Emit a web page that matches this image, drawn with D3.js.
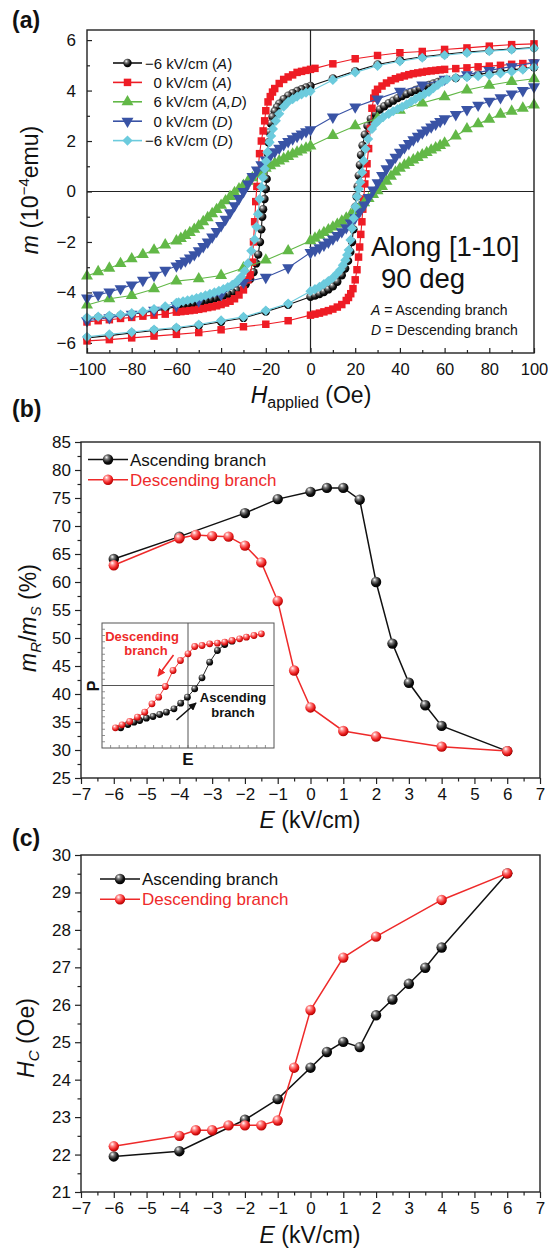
<!DOCTYPE html>
<html>
<head>
<meta charset="utf-8">
<script src="https://cdn.jsdelivr.net/npm/d3@7"></script>
<style>
  body { margin: 0; background: #fff; }
  svg { display: block; font-family: "Liberation Sans", Arial, sans-serif; }
</style>
</head>
<body>
<div id="chart"></div>
<script>
// ---------- panel (a) data : [H (Oe), m (1e-4 emu)] ----------
const blackUpper = [[100,5.7],[90,5.65],[80,5.59],[70,5.53],[60,5.44],[50,5.34],[40,5.2],[30,5.03],[20,4.77],[10,4.48],
  [0,4.18],[-2,4.12],[-4,4.05],[-6,3.98],[-8,3.9],[-10,3.8],[-12,3.66],[-14,3.48],[-15,3.34],[-16,3.18],[-17,2.96],[-17.8,2.7],[-18.4,2.35],[-18.8,1.95],[-19.1,1.5],[-19.3,1.0],[-19.6,0.5],[-20,0.1],[-20.6,-0.3],[-21.2,-0.7],[-21.6,-1.0],[-22,-1.5],[-22.6,-2.0],[-23.4,-2.5],[-24.3,-2.85],[-25.5,-3.2],[-27,-3.47],[-29,-3.68],[-31,-3.82],[-33,-3.92],[-35,-4.0],[-37,-4.07],[-39,-4.13],[-41,-4.18],[-43,-4.24],[-45,-4.28],[-47,-4.33],[-49,-4.37],[-51,-4.41],[-53,-4.44],[-55,-4.48],[-57,-4.51],[-59,-4.54],[-60,-4.56],
  [-65,-4.66],[-70,-4.73],[-75,-4.8],[-80,-4.86],[-85,-4.91],[-90,-4.95],[-95,-4.99],[-100,-5.03]];
const blackLower = [[-100,-5.8],[-90,-5.71],[-80,-5.61],[-70,-5.51],[-60,-5.43],[-50,-5.31],[-40,-5.16],[-30,-5.01],[-20,-4.76],[-10,-4.49],
  [0,-4.17],[2,-4.12],[4,-4.06],[6,-3.98],[8,-3.88],[10,-3.76],[12,-3.58],[14,-3.32],[15.5,-3.05],[16.8,-2.75],[17.8,-2.4],[18.6,-2.0],[19.2,-1.5],[19.7,-1.0],[20.1,-0.6],[20.6,-0.2],[21.1,0.2],[21.6,0.63],[22.1,1.05],[22.6,1.45],[23.3,1.82],[24.3,2.25],[25.5,2.6],[27,2.88],[29,3.1],[31,3.25],[33,3.38],[35,3.5],[37,3.6],[39,3.7],[41,3.78],[43,3.86],[45,3.94],[47,4.02],[49,4.09],[51,4.16],[53,4.22],[55,4.28],[57,4.34],[59,4.4],[60,4.42],
  [65,4.5],[70,4.57],[75,4.64],[80,4.7],[85,4.76],[90,4.82],[95,4.87],[100,4.92]];
const redUpper = [[100,5.85],[90,5.82],[80,5.76],[70,5.69],[60,5.63],[50,5.55],[40,5.5],[30,5.39],[20,5.26],[10,5.06],
  [2,4.88],[0,4.84],[-2,4.8],[-4,4.76],[-6,4.72],[-8,4.62],[-10,4.54],[-12,4.44],[-14,4.28],[-16,4.08],[-17,3.94],[-18,3.76],[-19,3.55],[-20,3.2],[-20.5,2.8],[-21.2,2.4],[-22,2.0],[-22.8,1.5],[-23.5,0.8],[-24,0.2],[-24.5,-0.4],[-25,-1.2],[-25.5,-2.0],[-26,-2.8],[-27,-3.3],[-28,-3.5],[-30,-3.9],[-32,-4.1],[-34,-4.25],[-36,-4.35],[-38,-4.42],[-40,-4.48],[-42,-4.53],[-44,-4.57],[-46,-4.6],[-48,-4.64],[-50,-4.67],[-52,-4.7],[-54,-4.72],[-56,-4.74],[-58,-4.76],[-60,-4.78],
  [-65,-4.86],[-70,-4.9],[-75,-4.94],[-80,-4.99],[-85,-5.03],[-90,-5.08],[-95,-5.12],[-100,-5.17]];
const redLower = [[-100,-5.92],[-90,-5.87],[-80,-5.8],[-70,-5.73],[-60,-5.66],[-50,-5.59],[-40,-5.48],[-30,-5.36],[-20,-5.26],[-10,-5.12],
  [0,-4.9],[2,-4.86],[4,-4.82],[6,-4.77],[8,-4.72],[10,-4.66],[12,-4.58],[14,-4.48],[16,-4.32],[17,-4.2],[18,-4.05],[19,-3.85],[20,-3.5],[20.8,-3.1],[21.5,-2.6],[22,-2.2],[22.5,-1.7],[23,-1.2],[23.4,-0.7],[23.8,-0.3],[24.3,0.3],[24.8,0.7],[25.3,1.1],[26,1.7],[26.8,2.5],[27.5,3.3],[28.3,3.7],[29,3.9],[30,4.05],[32,4.18],[34,4.3],[36,4.4],[38,4.47],[40,4.53],[42,4.58],[44,4.63],[46,4.67],[48,4.7],[50,4.73],[52,4.76],[54,4.78],[56,4.8],[58,4.82],[60,4.84],
  [65,4.87],[70,4.9],[75,4.94],[80,4.97],[85,5.0],[90,5.04],[95,5.07],[100,5.1]];
const greenUpper = [[100,4.47],[90,4.36],[80,4.21],[70,4.02],[60,3.75],[50,3.51],[40,3.22],[30,2.9],[20,2.6],[10,2.22],
  [0,1.8],[-2,1.72],[-4,1.64],[-6,1.56],[-8,1.48],[-10,1.39],[-12,1.3],[-14,1.21],[-16,1.12],[-18,1.02],[-20,0.92],[-22,0.8],[-24,0.68],[-26,0.54],[-28,0.4],[-30,0.24],[-32,0.1],[-34,-0.05],[-36,-0.2],[-38,-0.37],[-40,-0.55],[-42,-0.72],[-44,-0.88],[-46,-1.04],[-48,-1.2],[-50,-1.36],[-52,-1.5],[-54,-1.63],[-56,-1.75],[-58,-1.86],[-60,-1.96],
  [-65,-2.12],[-70,-2.32],[-75,-2.5],[-80,-2.67],[-85,-2.86],[-90,-3.04],[-95,-3.18],[-100,-3.35]];
const greenLower = [[-100,-4.5],[-90,-4.25],[-80,-4.12],[-70,-3.86],[-60,-3.55],[-50,-3.46],[-40,-3.33],[-30,-3.03],[-20,-2.72],[-10,-2.35],
  [0,-1.95],[2,-1.85],[4,-1.74],[6,-1.63],[8,-1.52],[10,-1.41],[12,-1.3],[14,-1.18],[16,-1.06],[18,-0.92],[20,-0.77],[22,-0.62],[24,-0.45],[26,-0.28],[28,-0.12],[30,0.03],[32,0.2],[34,0.4],[36,0.6],[38,0.77],[40,0.92],[42,1.04],[44,1.15],[46,1.25],[48,1.35],[50,1.45],[52,1.54],[54,1.64],[56,1.73],[58,1.82],[60,1.92],
  [65,2.2],[70,2.48],[75,2.68],[80,2.86],[85,3.06],[90,3.18],[95,3.3],[100,3.43]];
const blueUpper = [[100,5.1],[90,4.95],[80,4.8],[70,4.63],[60,4.45],[50,4.22],[40,3.97],[30,3.67],[20,3.35],[10,2.95],
  [0,2.45],[-2,2.37],[-4,2.28],[-6,2.19],[-8,2.09],[-10,1.98],[-12,1.86],[-14,1.72],[-16,1.58],[-18,1.42],[-20,1.25],[-22,1.06],[-24,0.85],[-26,0.6],[-28,0.3],[-30,0.0],[-32,-0.28],[-34,-0.56],[-36,-0.84],[-38,-1.1],[-40,-1.35],[-42,-1.58],[-44,-1.8],[-46,-2.0],[-48,-2.18],[-50,-2.35],[-52,-2.5],[-54,-2.63],[-56,-2.75],[-58,-2.85],[-60,-2.95],
  [-65,-3.12],[-70,-3.32],[-75,-3.52],[-80,-3.7],[-85,-3.85],[-90,-3.98],[-95,-4.1],[-100,-4.22]];
const blueLower = [[-100,-5.12],[-90,-5.0],[-80,-4.86],[-70,-4.7],[-60,-4.52],[-50,-4.33],[-40,-4.08],[-30,-3.6],[-20,-3.4],[-10,-3.02],
  [0,-2.42],[2,-2.33],[4,-2.23],[6,-2.12],[8,-2.0],[10,-1.88],[12,-1.74],[14,-1.59],[16,-1.43],[18,-1.25],[20,-1.04],[22,-0.8],[24,-0.53],[26,-0.24],[28,0.06],[30,0.35],[32,0.64],[34,0.9],[36,1.14],[38,1.36],[40,1.56],[42,1.74],[44,1.9],[46,2.05],[48,2.19],[50,2.32],[52,2.44],[54,2.56],[56,2.67],[58,2.78],[60,2.88],
  [65,3.05],[70,3.25],[75,3.42],[80,3.58],[85,3.72],[90,3.87],[95,4.0],[100,4.15]];
const cyanUpper = [[100,5.68],[90,5.62],[80,5.56],[70,5.49],[60,5.4],[50,5.3],[40,5.16],[30,4.98],[20,4.72],[10,4.42],
  [0,3.97],[-2,3.92],[-4,3.85],[-6,3.76],[-8,3.66],[-10,3.55],[-12,3.36],[-14,3.08],[-15.5,2.8],[-16.8,2.48],[-17.6,2.2],[-18.3,1.95],[-19.3,1.56],[-19.9,1.2],[-20.5,0.9],[-21.3,0.55],[-22,0.17],[-22.8,-0.3],[-23.5,-0.9],[-24.2,-1.4],[-25,-1.9],[-26.5,-2.35],[-28,-2.85],[-29.5,-3.15],[-31,-3.38],[-33,-3.57],[-35,-3.7],[-37,-3.79],[-39,-3.87],[-41,-3.94],[-43,-4.0],[-45,-4.06],[-47,-4.12],[-49,-4.17],[-51,-4.22],[-53,-4.27],[-55,-4.31],[-57,-4.35],[-59,-4.39],[-60,-4.41],
  [-65,-4.55],[-70,-4.66],[-75,-4.75],[-80,-4.82],[-85,-4.88],[-90,-4.92],[-95,-4.96],[-100,-4.99]];
const cyanLower = [[-100,-5.76],[-90,-5.66],[-80,-5.57],[-70,-5.47],[-60,-5.39],[-50,-5.27],[-40,-5.11],[-30,-4.97],[-20,-4.72],[-10,-4.44],
  [0,-3.95],[2,-3.87],[4,-3.78],[6,-3.67],[8,-3.55],[10,-3.42],[12,-3.24],[13.4,-3.1],[14.5,-2.92],[15.6,-2.72],[16.4,-2.52],[17.1,-2.32],[17.9,-1.92],[18.6,-1.46],[19.3,-1.06],[20.1,-0.6],[20.8,-0.2],[21.6,0.1],[22.3,0.37],[23.1,0.76],[23.8,1.22],[24.6,1.69],[25.8,2.08],[27.5,2.48],[29,2.68],[30.5,2.81],[32.5,2.95],[35,3.08],[37,3.18],[39,3.27],[41,3.35],[43,3.45],[45,3.56],[47,3.67],[49,3.77],[51,3.86],[53,3.95],[55,4.1],[57,4.22],[59,4.35],[61,4.44],
  [65,4.5],[70,4.53],[75,4.57],[80,4.62],[85,4.68],[90,4.75],[95,4.83],[100,4.92]];

// ---------- panel (b)/(c) data ----------
const eAsc = [-6,-4,-2,-1,0,0.5,1,1.5,2,2.5,3,3.5,4,6];
const eDesc = [-6,-4,-3.5,-3,-2.5,-2,-1.5,-1,-0.5,0,1,2,4,6];
const ratioAsc = [64.1,68.1,72.3,74.8,76.1,76.8,76.8,74.7,60.0,49.0,42.0,38.0,34.3,29.8];
const ratioDesc = [63.0,67.8,68.4,68.2,68.1,66.5,63.5,56.6,44.2,37.6,33.4,32.4,30.6,29.8];
const hcAsc = [21.95,22.09,22.93,23.48,24.32,24.74,25.01,24.87,25.72,26.14,26.56,26.99,27.53,29.51];
const hcDesc = [22.22,22.5,22.65,22.65,22.78,22.78,22.78,22.91,24.32,25.86,27.26,27.82,28.8,29.51];

// inset P-E sketch, normalised units
const insetDesc = [[-0.844,-0.677],[-0.767,-0.629],[-0.678,-0.576],[-0.588,-0.507],[-0.503,-0.427],[-0.419,-0.293],[-0.341,-0.187],[-0.263,-0.016],[-0.174,0.24],[-0.088,0.4],[0,0.507],[0.078,0.624],[0.163,0.64],[0.252,0.667],[0.342,0.677],[0.427,0.693],[0.512,0.72],[0.6,0.747],[0.679,0.773],[0.767,0.8],[0.853,0.827]];
const insetAsc = [[-0.782,-0.677],[-0.698,-0.624],[-0.628,-0.587],[-0.562,-0.56],[-0.484,-0.523],[-0.407,-0.496],[-0.329,-0.464],[-0.251,-0.427],[-0.163,-0.373],[-0.085,-0.283],[-0.007,-0.187],[0.078,-0.053],[0.163,0.123],[0.252,0.373],[0.342,0.56],[0.427,0.656],[0.512,0.709]];

const RED = "#ee1c25", GREEN = "#62b847", BLUE = "#3953a5", CYAN = "#6ccbdd";

const svg = d3.select("#chart").append("svg")
    .attr("width", 548).attr("height", 1251);

// sphere gradients
const defs = svg.append("defs");
function sphere(id, c0, c1, c2) {
    const g = defs.append("radialGradient").attr("id", id)
        .attr("cx", "40%").attr("cy", "35%").attr("r", "65%").attr("fx", "35%").attr("fy", "28%");
    g.append("stop").attr("offset", "0%").attr("stop-color", "#ffffff");
    g.append("stop").attr("offset", "30%").attr("stop-color", c0);
    g.append("stop").attr("offset", "70%").attr("stop-color", c1);
    g.append("stop").attr("offset", "100%").attr("stop-color", c2);
}
sphere("ballK", "#777", "#111", "#000");
sphere("ballR", "#ff8a8a", "#ee2222", "#b00000");

let fontTick = 17;

function frame(x, y) {
    svg.append("rect")
        .attr("x", x.range()[0]).attr("y", y.range()[1])
        .attr("width", x.range()[1] - x.range()[0])
        .attr("height", y.range()[0] - y.range()[1])
        .attr("fill", "none").attr("stroke", "#222").attr("stroke-width", 1.4);
}

function styleAxis(g) {
    g.select(".domain").remove();
    g.selectAll("line").attr("stroke", "#222").attr("stroke-width", 1.2);
    g.selectAll("text").attr("font-size", fontTick).attr("fill", "#111")
        .attr("font-family", "Liberation Sans, Arial, sans-serif");
}

// ================= panel (a) =================
const xA = d3.scaleLinear().domain([-100, 100]).range([87, 534]);
const yA = d3.scaleLinear().domain([-6.4, 6.4]).range([353, 30]);

fontTick = 16.5;
svg.append("g").attr("transform", `translate(0,${yA.range()[0]})`)
    .call(d3.axisBottom(xA).tickValues(d3.range(-100, 101, 20)).tickSizeInner(-5).tickSizeOuter(0).tickPadding(10))
    .call(styleAxis);
svg.append("g").attr("transform", `translate(0,${yA.range()[0]})`)
    .call(d3.axisBottom(xA).tickValues(d3.range(-90, 100, 20)).tickSizeInner(-3).tickSizeOuter(0).tickFormat(""))
    .call(styleAxis);
fontTick = 17;
svg.append("g").attr("transform", `translate(${xA.range()[0]},0)`)
    .call(d3.axisLeft(yA).tickValues(d3.range(-6, 7, 2)).tickSizeInner(-5).tickSizeOuter(0).tickPadding(11))
    .call(styleAxis);
svg.append("g").attr("transform", `translate(${xA.range()[0]},0)`)
    .call(d3.axisLeft(yA).tickValues([-5, -3, -1, 1, 3, 5]).tickSizeInner(-3).tickSizeOuter(0).tickFormat(""))
    .call(styleAxis);

// zero cross lines
svg.append("line").attr("x1", xA(0)).attr("x2", xA(0)).attr("y1", yA.range()[1]).attr("y2", yA.range()[0])
    .attr("stroke", "#222").attr("stroke-width", 1.2);
svg.append("line").attr("x1", xA.range()[0]).attr("x2", xA.range()[1]).attr("y1", yA(0)).attr("y2", yA(0))
    .attr("stroke", "#222").attr("stroke-width", 1.2);

const seriesA = [
    { name: "−6 kV/cm (", tag: "A", color: "#111", shape: "circle", branches: [blackUpper, blackLower] },
    { name: "0 kV/cm (", tag: "A", color: RED, shape: "square", branches: [redUpper, redLower] },
    { name: "6 kV/cm (", tag: "A,D", color: GREEN, shape: "up", branches: [greenUpper, greenLower] },
    { name: "0 kV/cm (", tag: "D", color: BLUE, shape: "down", branches: [blueUpper, blueLower] },
    { name: "−6 kV/cm (", tag: "D", color: CYAN, shape: "diamond", branches: [cyanUpper, cyanLower] }
];

function marker(sel, s) {
    if (s.shape === "circle") {
        sel.append("circle").attr("r", 4.2).attr("fill", "url(#ballK)");
    } else if (s.shape === "square") {
        sel.append("path").attr("d", d3.symbol(d3.symbolSquare, 56)()).attr("fill", s.color);
    } else if (s.shape === "up") {
        sel.append("path").attr("d", d3.symbol(d3.symbolTriangle, 62)()).attr("fill", s.color);
    } else if (s.shape === "down") {
        sel.append("path").attr("d", d3.symbol(d3.symbolTriangle, 62)()).attr("transform", "rotate(180)").attr("fill", s.color);
    } else {
        sel.append("path").attr("d", d3.symbol(d3.symbolSquare, 52)()).attr("transform", "rotate(45)").attr("fill", s.color);
    }
}

const lineA = d3.line().x(d => xA(d[0])).y(d => yA(d[1]));
const plotA = svg.append("g");
seriesA.forEach(s => {
    s.branches.forEach(b => {
        plotA.append("path").datum(b).attr("d", lineA)
            .attr("fill", "none").attr("stroke", s.color).attr("stroke-width", 1.1);
        plotA.selectAll(null).data(b).enter().append("g")
            .attr("transform", d => `translate(${xA(d[0])},${yA(d[1])})`)
            .each(function () { marker(d3.select(this), s); });
    });
});

// legend (a)
const legA = svg.append("g");
seriesA.forEach((s, i) => {
    const y = 63 + i * 19.4;
    legA.append("line").attr("x1", 113).attr("x2", 142).attr("y1", y).attr("y2", y)
        .attr("stroke", s.color).attr("stroke-width", 1.6);
    marker(legA.append("g").attr("transform", `translate(127.5,${y})`), s);
    const t = legA.append("text").attr("x", s.name.startsWith("−") ? 145 : 153.5).attr("y", y + 5.5)
        .attr("font-size", 15).attr("fill", "#111");
    t.append("tspan").text(s.name);
    t.append("tspan").attr("font-style", "italic").text(s.tag);
    t.append("tspan").text(")");
});

// annotations (a)
svg.append("text").attr("x", 371).attr("y", 256).attr("font-size", 27.5).attr("fill", "#111").text("Along [1-10]");
svg.append("text").attr("x", 381).attr("y", 288).attr("font-size", 27.5).attr("fill", "#111").text("90 deg");
[["A", " = Ascending branch", 315], ["D", " = Descending branch", 335]].forEach(r => {
    const t = svg.append("text").attr("x", 371).attr("y", r[2]).attr("font-size", 14).attr("fill", "#111");
    t.append("tspan").attr("font-style", "italic").text(r[0]);
    t.append("tspan").text(r[1]);
});

// axis titles (a)
const ta = svg.append("text").attr("transform", "translate(38,190) rotate(-90)")
    .attr("text-anchor", "middle").attr("font-size", 23).attr("fill", "#111");
ta.append("tspan").attr("font-style", "italic").text("m");
ta.append("tspan").text(" (10");
ta.append("tspan").attr("font-size", 15).attr("dy", -9).text("−4");
ta.append("tspan").attr("dy", 9).text("emu)");
const tb = svg.append("text").attr("x", 311).attr("y", 403)
    .attr("text-anchor", "middle").attr("font-size", 23).attr("fill", "#111");
tb.append("tspan").attr("font-style", "italic").text("H");
tb.append("tspan").attr("font-size", 16).attr("dy", 5).text("applied");
tb.append("tspan").attr("dy", -5).text(" (Oe)");

// ================= panels (b) and (c) =================
const xE = d3.scaleLinear().domain([-7, 7]).range([81, 540]);

function ePanel(y, majorY, minorY, asc, desc) {
    const bottom = y.range()[0];
    svg.append("g").attr("transform", `translate(0,${bottom})`)
        .call(d3.axisBottom(xE).tickValues(d3.range(-7, 7.01, 1)).tickSizeInner(6).tickSizeOuter(0).tickPadding(4))
        .call(styleAxis);
    svg.append("g").attr("transform", `translate(0,${bottom})`)
        .call(d3.axisBottom(xE).tickValues(d3.range(-6.5, 7, 1)).tickSizeInner(3.5).tickSizeOuter(0).tickFormat(""))
        .call(styleAxis);
    svg.append("g").attr("transform", `translate(${xE.range()[0]},0)`)
        .call(d3.axisLeft(y).tickValues(majorY).tickSizeInner(6).tickSizeOuter(0).tickPadding(4))
        .call(styleAxis);
    svg.append("g").attr("transform", `translate(${xE.range()[0]},0)`)
        .call(d3.axisLeft(y).tickValues(minorY).tickSizeInner(3.5).tickSizeOuter(0).tickFormat(""))
        .call(styleAxis);
    frame(xE, y);

    const line = d3.line().x(d => xE(d[0])).y(d => y(d[1]));
    [[asc, "#111", "url(#ballK)"], [desc, "#ee2a2a", "url(#ballR)"]].forEach(r => {
        svg.append("path").datum(r[0]).attr("d", line)
            .attr("fill", "none").attr("stroke", r[1]).attr("stroke-width", 1.5);
        svg.selectAll(null).data(r[0]).enter().append("circle")
            .attr("cx", d => xE(d[0])).attr("cy", d => y(d[1])).attr("r", 5.2)
            .attr("fill", r[2]);
    });
}

function eLegend(x0, y0) {
    [["Ascending branch", "#111", "url(#ballK)"], ["Descending branch", "#ee2a2a", "url(#ballR)"]].forEach((r, i) => {
        const y = y0 + i * 20.3;
        svg.append("line").attr("x1", x0).attr("x2", x0 + 40).attr("y1", y).attr("y2", y)
            .attr("stroke", r[1]).attr("stroke-width", 1.5);
        svg.append("circle").attr("cx", x0 + 20).attr("cy", y).attr("r", 5.2).attr("fill", r[2]);
        svg.append("text").attr("x", x0 + 42).attr("y", y + 6).attr("font-size", 17)
            .attr("fill", r[1]).text(r[0]);
    });
}

function eTitle(yPos) {
    const t = svg.append("text").attr("x", 310).attr("y", yPos)
        .attr("text-anchor", "middle").attr("font-size", 23).attr("fill", "#111");
    t.append("tspan").attr("font-style", "italic").text("E");
    t.append("tspan").text(" (kV/cm)");
}

// (b)
const yB = d3.scaleLinear().domain([25, 85]).range([778, 442]);
ePanel(yB, d3.range(25, 86, 5), d3.range(27.5, 85, 5),
    eAsc.map((e, i) => [e, ratioAsc[i]]), eDesc.map((e, i) => [e, ratioDesc[i]]));
eLegend(88, 459.5);
eTitle(828);
const tyb = svg.append("text").attr("transform", "translate(36,618) rotate(-90)")
    .attr("text-anchor", "middle").attr("font-size", 23).attr("fill", "#111");
tyb.append("tspan").attr("font-style", "italic").text("m");
tyb.append("tspan").attr("font-style", "italic").attr("font-size", 15).attr("dy", 5).text("R");
tyb.append("tspan").attr("dy", -5).text("/");
tyb.append("tspan").attr("font-style", "italic").text("m");
tyb.append("tspan").attr("font-style", "italic").attr("font-size", 15).attr("dy", 5).text("S");
tyb.append("tspan").attr("dy", -5).text(" (%)");

// inset in (b)
const xI = d3.scaleLinear().domain([-1, 1]).range([102, 274]);
const yI = d3.scaleLinear().domain([-1, 1]).range([748, 623]);
const inset = svg.append("g");
inset.append("rect").attr("x", 102).attr("y", 623).attr("width", 172).attr("height", 125)
    .attr("fill", "#fff").attr("stroke", "#555").attr("stroke-width", 1);
inset.selectAll(null).data(d3.range(-0.9, 1, 0.1)).enter().append("line")
    .attr("x1", d => xI(d)).attr("x2", d => xI(d)).attr("y1", 748).attr("y2", 745)
    .attr("stroke", "#777").attr("stroke-width", 0.8);
inset.selectAll(null).data(d3.range(-0.9, 1, 0.1)).enter().append("line")
    .attr("x1", 102).attr("x2", 105).attr("y1", d => yI(d)).attr("y2", d => yI(d))
    .attr("stroke", "#777").attr("stroke-width", 0.8);
inset.append("line").attr("x1", xI(0)).attr("x2", xI(0)).attr("y1", 623).attr("y2", 748).attr("stroke", "#555");
inset.append("line").attr("x1", 102).attr("x2", 274).attr("y1", yI(0)).attr("y2", yI(0)).attr("stroke", "#555");
const lineI = d3.line().x(d => xI(d[0])).y(d => yI(d[1]));
[[insetAsc, "#111", "url(#ballK)"], [insetDesc, "#ee2a2a", "url(#ballR)"]].forEach(r => {
    inset.append("path").datum(r[0]).attr("d", lineI).attr("fill", "none").attr("stroke", r[1]).attr("stroke-width", 0.9);
    inset.selectAll(null).data(r[0]).enter().append("circle")
        .attr("cx", d => xI(d[0])).attr("cy", d => yI(d[1])).attr("r", 3.4).attr("fill", r[2]);
});
defs.append("marker").attr("id", "arrR").attr("viewBox", "0 0 10 10").attr("refX", 9).attr("refY", 5)
    .attr("markerWidth", 5).attr("markerHeight", 5).attr("orient", "auto")
    .append("path").attr("d", "M0,0L10,5L0,10z").attr("fill", "#ee2a2a");
defs.append("marker").attr("id", "arrK").attr("viewBox", "0 0 10 10").attr("refX", 9).attr("refY", 5)
    .attr("markerWidth", 5).attr("markerHeight", 5).attr("orient", "auto")
    .append("path").attr("d", "M0,0L10,5L0,10z").attr("fill", "#111");
inset.append("line").attr("x1", 173.5).attr("y1", 655).attr("x2", 158).attr("y2", 676)
    .attr("stroke", "#ee2a2a").attr("stroke-width", 1.6).attr("marker-end", "url(#arrR)");
inset.append("line").attr("x1", 176.5).attr("y1", 720).attr("x2", 196).attr("y2", 703)
    .attr("stroke", "#111").attr("stroke-width", 1.6).attr("marker-end", "url(#arrK)");
[["Descending", 142, 641, "#ee2a2a"], ["branch", 146, 655, "#ee2a2a"],
 ["Ascending", 233, 702, "#111"], ["branch", 233, 717, "#111"]].forEach(r => {
    inset.append("text").attr("x", r[1]).attr("y", r[2]).attr("text-anchor", "middle")
        .attr("font-size", 13).attr("font-weight", "bold").attr("fill", r[3]).text(r[0]);
});
inset.append("text").attr("transform", "translate(99,686) rotate(-90)").attr("text-anchor", "middle")
    .attr("font-size", 16).attr("font-weight", "bold").attr("fill", "#111").text("P");
inset.append("text").attr("x", xI(0)).attr("y", 765).attr("text-anchor", "middle")
    .attr("font-size", 17).attr("font-weight", "bold").attr("fill", "#111").text("E");

// (c)
const yC = d3.scaleLinear().domain([21, 30]).range([1192, 855]);
ePanel(yC, d3.range(21, 30.1, 1), d3.range(21.5, 30, 1),
    eAsc.map((e, i) => [e, hcAsc[i]]), eDesc.map((e, i) => [e, hcDesc[i]]));
eLegend(100, 879);
eTitle(1243);
const tyc = svg.append("text").attr("transform", "translate(34,1038) rotate(-90)")
    .attr("text-anchor", "middle").attr("font-size", 23).attr("fill", "#111");
tyc.append("tspan").attr("font-style", "italic").text("H");
tyc.append("tspan").attr("font-style", "italic").attr("font-size", 15).attr("dy", 5).text("C");
tyc.append("tspan").attr("dy", -5).text(" (Oe)");

// frame (a) on top
frame(xA, yA);

// panel letters
[["(a)", 28], ["(b)", 417], ["(c)", 846]].forEach(p => {
    svg.append("text").attr("x", 12).attr("y", p[1]).attr("font-size", 23)
        .attr("font-weight", "bold").attr("fill", "#111").text(p[0]);
});
</script>
</body>
</html>
